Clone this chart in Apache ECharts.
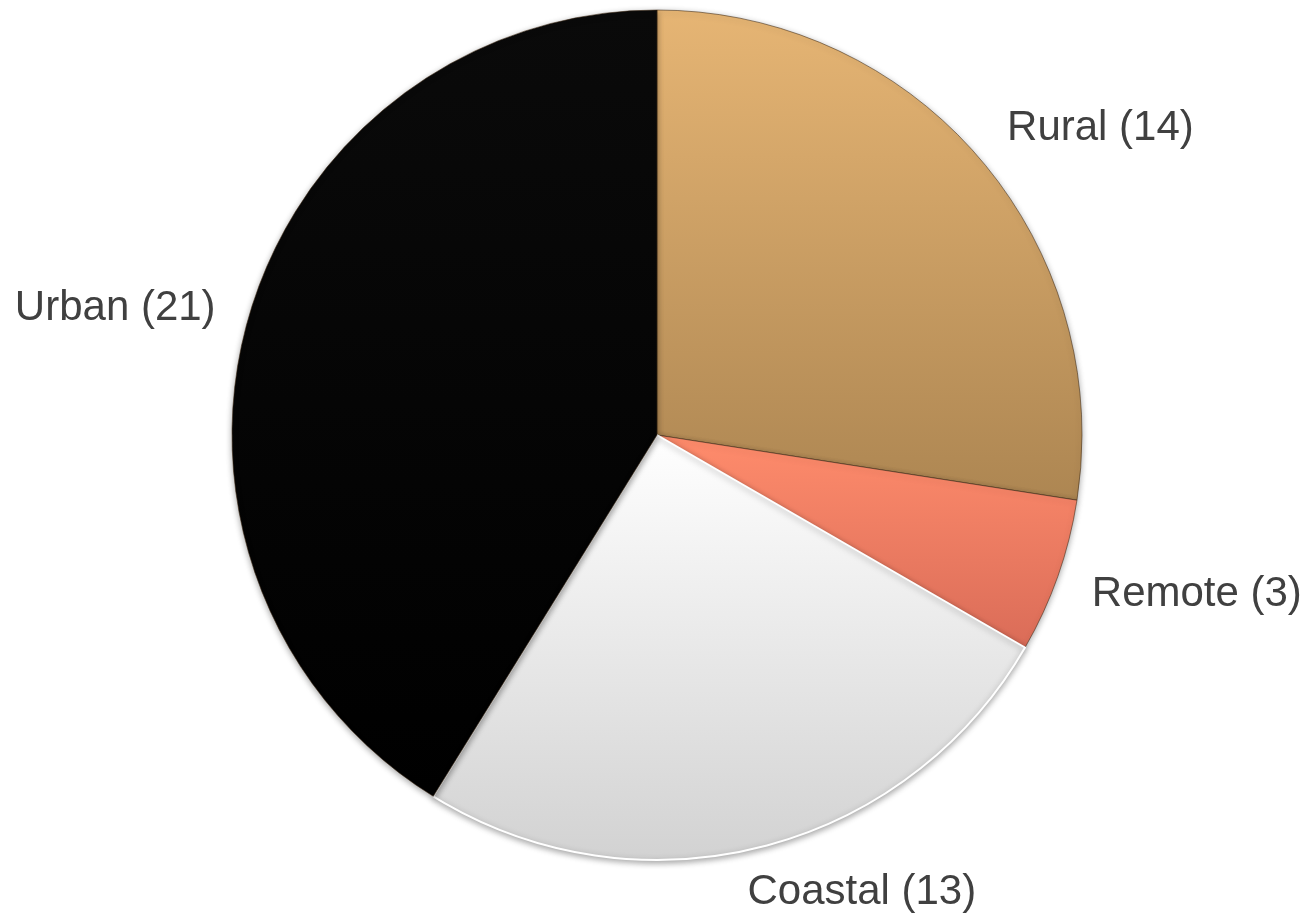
<!DOCTYPE html>
<html>
<head>
<meta charset="utf-8">
<script src="https://cdn.jsdelivr.net/npm/echarts@6/dist/echarts.min.js"></script>
<style>
  html, body { margin: 0; padding: 0; background: #fff; }
  #chart { width: 1308px; height: 918px; }
</style>
</head>
<body>
<div id="chart"></div>
<script>
const categories = ['Rural', 'Remote', 'Coastal', 'Urban'];
const counts = [14, 3, 13, 21];

// top -> bottom gradient stops for each slice
const gradients = [
  ['#E6B574', '#AD8652'],
  ['#FF8C6C', '#DA6C58'],
  ['#FFFFFF', '#D2D2D2'],
  ['#0A0A0A', '#000000'],
];

// small nudges so labels sit where the original put them
const labelNudge = [[0, -7], [0, 6], [-22, 10], [2, 0]];

const grad = (c) => new echarts.graphic.LinearGradient(0, 0, 0, 1, [
  { offset: 0, color: c[0] },
  { offset: 1, color: c[1] },
]);

const chart = echarts.init(document.getElementById('chart'));

chart.setOption({
  backgroundColor: '#ffffff',
  animation: false,
  series: [{
    type: 'pie',
    center: [657, 435],
    radius: [0, 425],
    startAngle: 90,
    clockwise: true,
    avoidLabelOverlap: false,
    data: categories.map((name, i) => ({
      name,
      value: counts[i],
      itemStyle: {
        color: grad(gradients[i]),
        borderColor: i === 2 ? '#ffffff' : 'rgba(60, 40, 20, 0.55)',
        borderWidth: i === 2 ? 2 : 1,
      },
    })),
    itemStyle: {
      shadowBlur: 6,
      shadowColor: 'rgba(0, 0, 0, 0.35)',
      shadowOffsetY: 2,
    },
    label: {
      show: true,
      position: 'outside',
      formatter: '{b} ({c})',
      color: '#404040',
      fontFamily: 'Liberation Sans, Arial, sans-serif',
      fontSize: 42,
      distanceToLabelLine: 0,
    },
    labelLine: { show: false, length: 36, length2: 0 },
    labelLayout: (p) => ({ dx: labelNudge[p.dataIndex][0], dy: labelNudge[p.dataIndex][1] }),
    emphasis: { disabled: true },
  }],
});
</script>
</body>
</html>
